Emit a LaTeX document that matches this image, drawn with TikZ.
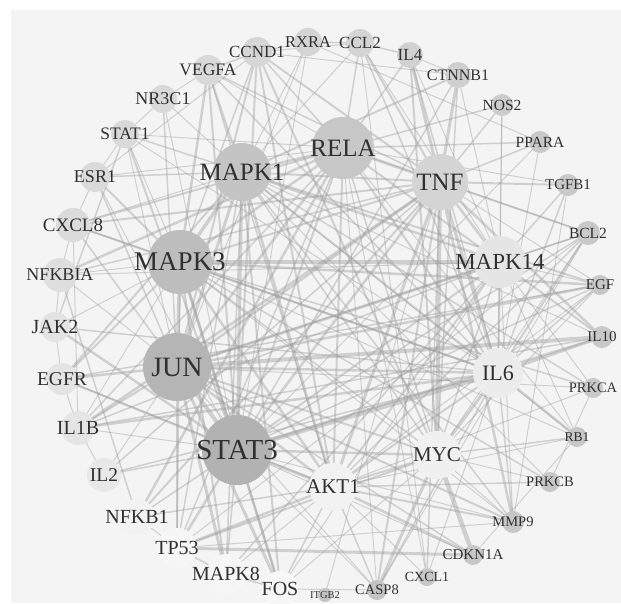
\documentclass[tikz,border=0pt]{standalone}
\usepackage{fontspec}
\setmainfont{Liberation Serif}
\pgfdeclarelayer{bg}
\pgfsetlayers{bg,main}
\definecolor{bgc}{HTML}{F4F4F4}
\definecolor{txt}{HTML}{303030}
\tikzset{
  gene/.style={circle, inner sep=0pt, draw=none},
  edge/.style={draw=black!38, opacity=0.42, line cap=round},
}
\begin{document}
\begin{tikzpicture}[x=1pt,y=-1pt]
\useasboundingbox (0,0) rectangle (621,603);
% nodes: name/x/y/radius/darkness/fontsize
\foreach \n/\x/\y/\r/\c/\f in {
  RELA/343/148/31/22/25, TNF/440/182/28/17/25, MAPK1/242/172/29/23/25,
  MAPK3/180/262/32/26/27, JUN/177/367/34/29/28, STAT3/237/450/35/30/29,
  MAPK14/500/262/26/10/23, IL6/498/373/25/7.5/22, MYC/437/455/24/6/21,
  AKT1/333/487/24/5/21,
  CCND1/257/52/15/16/17, RXRA/308/42/14/17/16.5, CCL2/360/43/14/17/17,
  IL4/410/55/13/18/17, CTNNB1/458/75/13/19/16, NOS2/502/105/11/20/15.5,
  PPARA/540/142/11/21/15.5, TGFB1/568/185/11/21/15, BCL2/588/233/12/21/15.5,
  EGF/600/285/10/21.5/15, IL10/602/337/11/21.5/15, PRKCA/593/388/10/21.5/14.5,
  RB1/577/437/10/22/13.5, PRKCB/550/482/10/22/14.5, MMP9/513/522/11/22/14.5,
  CDKN1A/473/555/10/22/15, CXCL1/427/577/9/22/14, CASP8/377/590/10/23/14.5,
  ITGB2/325/595/7/23/10.5, FOS/280/589/18/3/20, MAPK8/226/574/20/3.5/20,
  TP53/177/548/20/3.5/20, NFKB1/137/517/18/5/20, IL2/104/475/17/9/19.5,
  IL1B/78/428/17/10/20, EGFR/62/379/16/10.5/19.5, JAK2/55/327/15/11/20,
  NFKBIA/60/275/17/13/18, CXCL8/73/225/17/14/19, ESR1/95/177/15/14.5/18,
  STAT1/125/134/14/15/17.5, NR3C1/163/99/14/15/18, VEGFA/208/70/15/15/17.5}
{
  \node[gene, fill=black!\c, minimum size=2*\r pt] (\n) at (\x,\y) {};
  \node[text=txt, font=\fontsize{\f}{\f}\selectfont, inner sep=0pt] (\n-t) at (\x,\y) {\n};
}
\begin{pgfonlayer}{bg}
\fill[white] (0,0) rectangle (621,603);
\fill[bgc] (11,10) rectangle (621,603);
\foreach \a/\b/\w in {
  STAT3/JUN/4, STAT3/MAPK3/3, STAT3/MAPK1/3, STAT3/RELA/2, STAT3/TNF/2.5,
  STAT3/MAPK14/2, STAT3/IL6/4.5, STAT3/MYC/2.5, STAT3/AKT1/3,
  JUN/MAPK3/3.5, JUN/MAPK1/3, JUN/RELA/2.5, JUN/TNF/2.5, JUN/MAPK14/3,
  JUN/IL6/2.5, JUN/MYC/2, JUN/AKT1/2.5,
  MAPK3/MAPK1/3.5, MAPK3/RELA/2.5, MAPK3/TNF/2, MAPK3/MAPK14/3.5, MAPK3/IL6/2,
  MAPK3/MYC/1.5, MAPK3/AKT1/2.5,
  MAPK1/RELA/2.5, MAPK1/TNF/2, MAPK1/MAPK14/2.5, MAPK1/IL6/2, MAPK1/MYC/1.5, MAPK1/AKT1/2.5,
  RELA/TNF/3, RELA/MAPK14/2, RELA/IL6/2, RELA/MYC/1.5, RELA/AKT1/2,
  TNF/MAPK14/2.5, TNF/IL6/3, TNF/MYC/4, TNF/AKT1/3,
  MAPK14/IL6/2, MAPK14/MYC/1.5, MAPK14/AKT1/2, IL6/MYC/3, IL6/AKT1/2, MYC/AKT1/2,
  STAT3/JAK2/2.5, STAT3/EGFR/2, STAT3/IL2/1.5, STAT3/IL1B/1, STAT3/STAT1/2,
  STAT3/ESR1/1, STAT3/CCND1/2, STAT3/VEGFA/2, STAT3/NFKB1/1.5, STAT3/TP53/2.5,
  STAT3/FOS/2.5, STAT3/MAPK8/1.5, STAT3/CASP8/1, STAT3/IL10/2.5, STAT3/EGF/1.5,
  STAT3/BCL2/1.5, STAT3/CDKN1A/1, STAT3/CTNNB1/1.5, STAT3/NR3C1/1, STAT3/RXRA/1,
  STAT3/PPARA/1, STAT3/MMP9/1,
  JUN/FOS/3, JUN/MAPK8/3, JUN/TP53/2, JUN/EGFR/2.5, JUN/IL10/4, JUN/EGF/2.5,
  JUN/CCND1/2, JUN/ESR1/1.5, JUN/NR3C1/1.5, JUN/STAT1/1, JUN/CXCL8/1.5,
  JUN/NFKBIA/1, JUN/IL1B/2, JUN/IL2/1, JUN/MMP9/2, JUN/CASP8/1, JUN/CDKN1A/1.5,
  JUN/RXRA/1, JUN/BCL2/1.5, JUN/PRKCA/1,
  MAPK3/EGF/2.5, MAPK3/EGFR/2, MAPK3/VEGFA/2.5, MAPK3/MAPK8/2, MAPK3/FOS/2,
  MAPK3/CCND1/1.5, MAPK3/ESR1/2, MAPK3/NFKBIA/1, MAPK3/CXCL8/1.5, MAPK3/PRKCA/1.5,
  MAPK3/PRKCB/1.5, MAPK3/TP53/1.5, MAPK3/JAK2/1, MAPK3/IL1B/1, MAPK3/RB1/1,
  MAPK3/MMP9/1, MAPK3/STAT1/1,
  MAPK1/EGFR/2, MAPK1/EGF/2, MAPK1/VEGFA/2, MAPK1/CTNNB1/2, MAPK1/ESR1/1.5,
  MAPK1/STAT1/1.5, MAPK1/NR3C1/1, MAPK1/CXCL8/1, MAPK1/PRKCA/1.5, MAPK1/PRKCB/1,
  MAPK1/TP53/1.5, MAPK1/FOS/2, MAPK1/MAPK8/1.5, MAPK1/RXRA/1, MAPK1/CCL2/1,
  MAPK1/IL10/1, MAPK1/MMP9/1.5, MAPK1/RB1/1,
  RELA/NFKBIA/2.5, RELA/NFKB1/2.5, RELA/TP53/1.5, RELA/CCL2/1.5, RELA/CXCL8/2,
  RELA/IL1B/1.5, RELA/IL4/1.5, RELA/TGFB1/1, RELA/NOS2/1.5, RELA/PPARA/1.5,
  RELA/ESR1/1, RELA/STAT1/1, RELA/BCL2/1, RELA/CCND1/1.5, RELA/VEGFA/1,
  RELA/RB1/1, RELA/CXCL1/1, RELA/CASP8/1,
  TNF/IL4/3, TNF/CTNNB1/3, TNF/CCL2/2, TNF/CCND1/2, TNF/IL10/2.5, TNF/IL1B/2.5,
  TNF/IL2/1.5, TNF/NFKBIA/1.5, TNF/NFKB1/2, TNF/CXCL8/2, TNF/NOS2/1.5,
  TNF/TGFB1/2, TNF/BCL2/2, TNF/PPARA/1.5, TNF/MMP9/2.5, TNF/CASP8/2,
  TNF/CXCL1/1.5, TNF/VEGFA/1.5, TNF/EGF/1, TNF/ITGB2/1,
  MAPK14/IL10/2, MAPK14/BCL2/1.5, MAPK14/EGF/1, MAPK14/TGFB1/1.5, MAPK14/CTNNB1/1,
  MAPK14/NOS2/1, MAPK14/PRKCA/1, MAPK14/RB1/1, MAPK14/MMP9/1, MAPK14/IL4/1,
  MAPK14/CCL2/1, MAPK14/IL1B/1.5, MAPK14/NFKBIA/1, MAPK14/MAPK8/1.5, MAPK14/FOS/1,
  IL6/IL10/3, IL6/IL1B/2.5, IL6/IL4/1.5, IL6/CCL2/1.5, IL6/BCL2/2, IL6/EGF/1.5,
  IL6/RB1/2.5, IL6/MMP9/1.5, IL6/TGFB1/1.5, IL6/CASP8/1.5, IL6/CXCL8/2,
  IL6/IL2/1.5, IL6/VEGFA/1.5, IL6/NOS2/1, IL6/PPARA/1, IL6/JAK2/1.5,
  IL6/STAT1/1, IL6/CXCL1/1,
  MYC/CDKN1A/4.5, MYC/CASP8/3, MYC/CCND1/2, MYC/TP53/2, MYC/RB1/1.5,
  MYC/CTNNB1/1.5, MYC/PRKCB/1, MYC/MMP9/1, MYC/BCL2/1, MYC/IL4/2, MYC/EGF/1, MYC/FOS/1,
  AKT1/CDKN1A/2.5, AKT1/MMP9/2, AKT1/TP53/2.5, AKT1/CASP8/1.5, AKT1/CXCL1/1,
  AKT1/PRKCB/1.5, AKT1/PRKCA/1, AKT1/RB1/1, AKT1/VEGFA/1.5, AKT1/CCND1/2,
  AKT1/EGFR/1.5, AKT1/NFKB1/1.5, AKT1/MAPK8/1, AKT1/FOS/1.5, AKT1/BCL2/1.5, AKT1/EGF/1,
  TP53/CDKN1A/3, TP53/MAPK8/1.5, TP53/NFKB1/1, FOS/MAPK8/1.5, FOS/CASP8/1,
  NFKB1/NFKBIA/1.5, IL2/IL1B/1, IL1B/CXCL8/1, JAK2/STAT1/1.5, EGFR/EGF/1.5,
  ESR1/CCND1/1, CCND1/RXRA/1, RXRA/PPARA/1, VEGFA/NR3C1/1, NR3C1/STAT1/1,
  STAT1/ESR1/1, ESR1/CXCL8/1, CXCL8/NFKBIA/1, NFKBIA/JAK2/1, JAK2/EGFR/1,
  EGFR/IL1B/1, CCL2/IL4/1.5, IL4/CTNNB1/1, CTNNB1/CCND1/1, PRKCA/PRKCB/1,
  RB1/CDKN1A/1, MMP9/TGFB1/1, BCL2/CASP8/1, TP53/BCL2/1, TP53/MMP9/1,
  IL1B/IL10/1.5, CCL2/CXCL1/1, VEGFA/CCND1/1.5, CCND1/CCL2/1, RXRA/CCL2/1.5}
{
  \draw[edge, line width=\w pt] (\a) -- (\b);
}
\end{pgfonlayer}
\end{tikzpicture}
\end{document}
